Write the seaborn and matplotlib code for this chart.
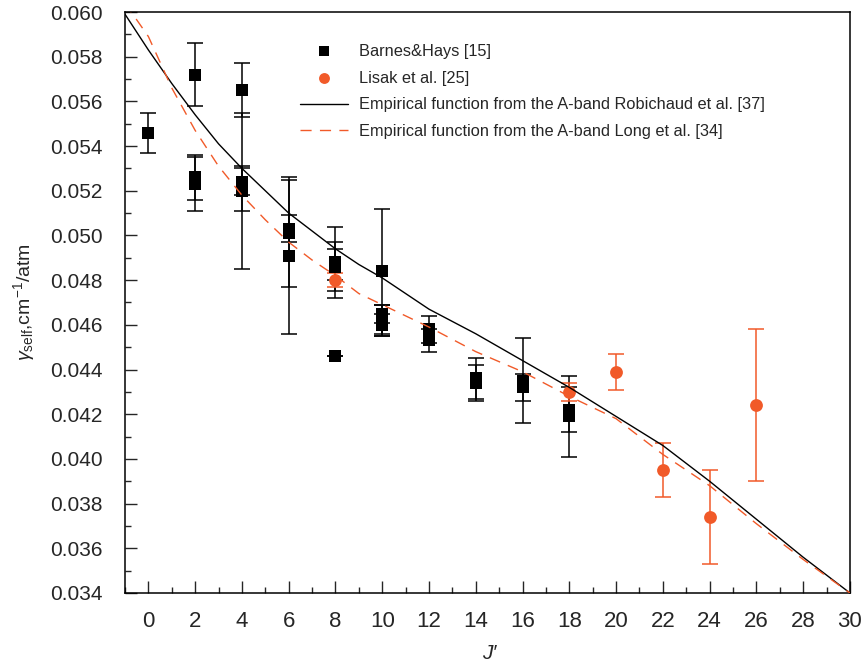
import numpy as np
import pandas as pd
import matplotlib
matplotlib.use('Agg')
import matplotlib.pyplot as plt
import seaborn as sns
from matplotlib.ticker import MultipleLocator, FormatStrFormatter

sns.set_style('ticks')
plt.rcParams['font.family'] = ['Liberation Sans', 'DejaVu Sans']
plt.rcParams['mathtext.fontset'] = 'custom'
plt.rcParams['mathtext.rm'] = 'Liberation Sans'
plt.rcParams['mathtext.it'] = 'Liberation Sans:italic'

# Barnes&Hays [15]
bh_j = [0, 2, 2, 2, 4, 4, 4, 4, 6, 6, 6, 8, 8, 8, 8,
        10, 10, 10, 10, 12, 12, 14, 14, 16, 16, 18, 18]
bh_g = [0.0546, 0.0572, 0.0526, 0.0523, 0.0565, 0.0524, 0.0521, 0.0520,
        0.0503, 0.0501, 0.0491, 0.0488, 0.0486, 0.0487, 0.0446,
        0.0484, 0.0465, 0.0462, 0.0460, 0.0458, 0.0453, 0.0436, 0.0434,
        0.0435, 0.0432, 0.0422, 0.0419]
bh_err = [0.0009, 0.0014, 0.0010, 0.0012, 0.0012, 0.0006, 0.0010, 0.0035,
          0.0006, 0.0024, 0.0035, 0.0016, 0.0011, 0.0007, 0.0,
          0.0028, 0.0004, 0.0007, 0.0005, 0.0006, 0.0005, 0.0009, 0.0008,
          0.0019, 0.0006, 0.0010, 0.0018]

# Lisak et al. [25]
lisak_j = [8, 18, 20, 22, 24, 26]
lisak_g = [0.0480, 0.0430, 0.0439, 0.0395, 0.0374, 0.0424]
lisak_err = [0.0003, 0.0004, 0.0008, 0.0012, 0.0021, 0.0034]

# empirical functions
curve_j = [-1, 0, 1, 2, 3, 4, 5, 6, 7, 8, 9, 10, 12, 14, 16, 18, 20, 22, 24, 26, 28, 30]
robichaud = [0.0599, 0.0583, 0.0568, 0.0554, 0.0541, 0.0530, 0.0520, 0.0510, 0.0502,
             0.0494, 0.0487, 0.0481, 0.0467, 0.0456, 0.0444, 0.0432, 0.0419, 0.0406,
             0.0390, 0.0373, 0.0356, 0.0340]
long_band = [0.0604, 0.0589, 0.0566, 0.0547, 0.0531, 0.0518, 0.0507, 0.0497, 0.0489,
             0.0482, 0.0474, 0.0469, 0.0459, 0.0448, 0.0439, 0.0428, 0.0418, 0.0402,
             0.0388, 0.0371, 0.0355, 0.0340]

orange = '#F15A29'

fig = plt.figure(figsize=(8.64, 6.67), dpi=100)
ax = fig.add_axes([0.1447, 0.111, 0.839, 0.871])

ax.errorbar(bh_j, bh_g, yerr=bh_err, fmt='none', ecolor='black', elinewidth=1.1,
            capsize=6, capthick=1.1, zorder=2)
sns.scatterplot(x=bh_j, y=bh_g, marker='s', s=75, color='black', edgecolor='black',
                linewidth=0, label='Barnes&Hays [15]', ax=ax, zorder=3)
ax.errorbar(lisak_j, lisak_g, yerr=lisak_err, fmt='none', ecolor=orange, elinewidth=1.1,
            capsize=6, capthick=1.1, zorder=2)
sns.scatterplot(x=lisak_j, y=lisak_g, marker='o', s=85, color=orange, edgecolor=orange,
                linewidth=0, label='Lisak et al. [25]', ax=ax, zorder=3)

df = pd.DataFrame({'J': curve_j, 'rob': robichaud, 'long': long_band})
sns.lineplot(data=df, x='J', y='rob', color='black', lw=1.0,
             label='Empirical function from the A-band Robichaud et al. [37]', ax=ax, zorder=4)
sns.lineplot(data=df, x='J', y='long', color=orange, lw=1.0, dashes=[(8, 6)], style=True,
             legend=False, ax=ax, zorder=4)
ax.plot([], [], color=orange, lw=1.0, dashes=(8, 6),
        label='Empirical function from the A-band Long et al. [34]')

ax.set_xlim(-1, 30)
ax.set_ylim(0.034, 0.060)
ax.xaxis.set_major_locator(MultipleLocator(2))
ax.xaxis.set_minor_locator(MultipleLocator(1))
ax.yaxis.set_major_locator(MultipleLocator(0.002))
ax.yaxis.set_minor_locator(MultipleLocator(0.001))
ax.yaxis.set_major_formatter(FormatStrFormatter('%.3f'))
ax.tick_params(which='both', direction='in', top=False, right=False)
ax.tick_params(axis='y', which='major', labelsize=15, pad=16)
ax.tick_params(axis='x', which='major', labelsize=16, pad=13)
ax.tick_params(which='major', length=8.5, width=1)
ax.tick_params(which='minor', length=4.3, width=1)
for sp in ax.spines.values():
    sp.set_linewidth(1.1)
    sp.set_color('black')

ax.set_xlabel("J′", fontsize=15, fontstyle='italic')
ax.set_ylabel(r'$\gamma_{\rm self}$,cm$^{-1}$/atm', fontsize=14)
ax.xaxis.set_label_coords(0.503, -0.088)
ax.yaxis.set_label_coords(-0.121, 0.5)

h, l = ax.get_legend_handles_labels()
ax.legend(h, l, loc='upper left', bbox_to_anchor=(285 / 864, 1 - 29 / 667),
          bbox_transform=fig.transFigure, frameon=False, fontsize=11.8,
          handlelength=2.93, handletextpad=0.67, labelspacing=0.72, markerscale=0.85)

fig.savefig('out.png', dpi=100)
